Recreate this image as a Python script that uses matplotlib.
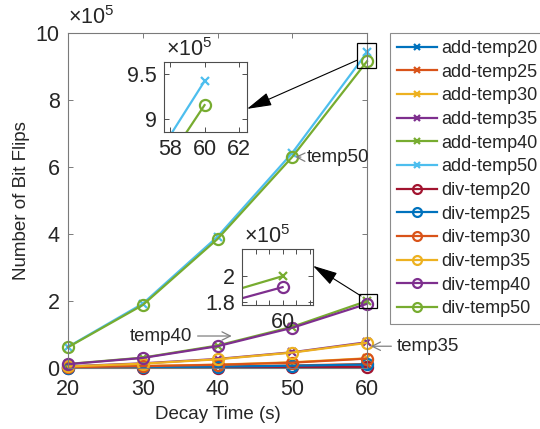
import matplotlib
matplotlib.use('Agg')
import matplotlib.pyplot as plt
from matplotlib.patches import Rectangle
from matplotlib.ticker import FuncFormatter
import numpy as np

plt.rcParams['font.family'] = ['Liberation Sans', 'DejaVu Sans']
plt.rcParams['mathtext.fontset'] = 'custom'
plt.rcParams['mathtext.rm'] = 'Liberation Sans'

# ---------------- data ----------------
decay_time = [20, 30, 40, 50, 60]

add_temp20 = [500, 1000, 1800, 3000, 5000]
add_temp25 = [1000, 2500, 4500, 7500, 12000]
add_temp30 = [2500, 6000, 10000, 17000, 29000]
add_temp35 = [5000, 14000, 27000, 47000, 77000]
add_temp40 = [12000, 31000, 67000, 123000, 200000]
add_temp50 = [63000, 192000, 392000, 642000, 942000]

div_temp20 = [300, 700, 1200, 2000, 3200]
div_temp25 = [900, 2200, 4000, 6800, 10500]
div_temp30 = [2300, 5500, 9500, 16000, 28000]
div_temp35 = [4500, 13000, 26000, 46000, 75000]
div_temp40 = [11500, 30000, 65000, 120000, 191500]
div_temp50 = [62000, 188000, 385000, 630000, 915600]

add_series = [add_temp20, add_temp25, add_temp30, add_temp35, add_temp40, add_temp50]
div_series = [div_temp20, div_temp25, div_temp30, div_temp35, div_temp40, div_temp50]
add_names = ['add-temp20', 'add-temp25', 'add-temp30', 'add-temp35', 'add-temp40', 'add-temp50']
div_names = ['div-temp20', 'div-temp25', 'div-temp30', 'div-temp35', 'div-temp40', 'div-temp50']

# matlab default colour order
add_colors = ['#0072BD', '#D95319', '#EDB120', '#7E2F8E', '#77AC30', '#4DBEEE']
div_colors = ['#A2142F', '#0072BD', '#D95319', '#EDB120', '#7E2F8E', '#77AC30']

TXT = '#262626'
AXC = '#7a7a7a'


def draw_lines(ax, ms_x=6, ms_o=8):
    hs = []
    for ys, c, n in zip(add_series, add_colors, add_names):
        h, = ax.plot(decay_time, ys, '-x', color=c, lw=1.6, ms=ms_x, mew=1.6, label=n)
        hs.append(h)
    for ys, c, n in zip(div_series, div_colors, div_names):
        h, = ax.plot(decay_time, ys, '-o', color=c, lw=1.6, ms=ms_o, mew=1.6,
                     mfc='none', label=n)
        hs.append(h)
    return hs


def style_axes(ax, spine_col, fs):
    for s in ax.spines.values():
        s.set_color(spine_col)
        s.set_linewidth(0.8)
    ax.tick_params(direction='in', top=True, right=True, length=3.5,
                   width=0.7, color=spine_col, labelcolor=TXT, labelsize=fs, pad=5)


fmt = FuncFormatter(lambda v, p: '%g' % round(v / 1e5, 3))

fig = plt.figure(figsize=(5.4, 4.29), dpi=100)

# ---------------- main axes ----------------
ax = fig.add_axes([68 / 540, 1 - 368 / 429, 299 / 540, 335 / 429])
handles = draw_lines(ax)
for h in handles:
    h.set_clip_on(False)
ax.set_xlim(20, 60)
ax.set_ylim(0, 1e6)
ax.set_xticks(decay_time)
ax.set_yticks(np.arange(0, 1.01e6, 2e5))
ax.yaxis.set_major_formatter(fmt)
style_axes(ax, AXC, 15.5)
ax.tick_params(axis='x', pad=8)
ax.tick_params(axis='y', pad=6)
ax.set_xlabel('Decay Time (s)', fontsize=13.5, color=TXT, labelpad=4)
ax.set_ylabel('Number of Bit Flips', fontsize=13.5, color=TXT, labelpad=4)
ax.text(0.0, 1.012, r'$\mathregular{\times10^{5}}$', transform=ax.transAxes,
        fontsize=15.5, color=TXT, ha='left', va='bottom')

leg = fig.legend(handles=handles, loc='upper left', bbox_to_anchor=(390 / 540, 1 - 33 / 429),
                 fontsize=13, frameon=True, fancybox=False, edgecolor='#8c8c8c',
                 framealpha=1, handlelength=2.2, handletextpad=0.25, labelspacing=0.37,
                 borderpad=0.38, borderaxespad=0, markerscale=0.8)
leg.get_frame().set_linewidth(0.8)
for t in leg.get_texts():
    t.set_color(TXT)

# ---------------- inset 1 (temp50 at 60 s) ----------------
ins1 = fig.add_axes([164 / 540, 1 - 132 / 429, 83 / 540, 70 / 429])
draw_lines(ins1)
ins1.set_xlim(57.65, 62.46)
ins1.set_ylim(8.86e5, 9.63e5)
ins1.set_xticks([58, 60, 62])
ins1.set_yticks([9e5, 9.5e5])
ins1.yaxis.set_major_formatter(fmt)
style_axes(ins1, '#4d4d4d', 15.5)
ins1.text(0.03, 1.02, r'$\mathregular{\times10^{5}}$', transform=ins1.transAxes,
          fontsize=15.5, color=TXT, ha='left', va='bottom')

# ---------------- inset 2 (temp40 at 60 s) ----------------
ins2 = fig.add_axes([242 / 540, 1 - 305 / 429, 71 / 540, 56 / 429])
draw_lines(ins2)
ins2.set_xlim(58.8, 60.9)
ins2.set_ylim(1.777e5, 2.21e5)
ins2.set_xticks([59.2, 59.6, 60, 60.4, 60.8])
ins2.set_xticklabels(['', '', '60', '', ''])
ins2.set_yticks([1.8e5, 2e5])
ins2.yaxis.set_major_formatter(fmt)
style_axes(ins2, '#4d4d4d', 15.5)
ins2.text(0.03, 1.02, r'$\mathregular{\times10^{5}}$', transform=ins2.transAxes,
          fontsize=15.5, color=TXT, ha='left', va='bottom')

# ---------------- zoom boxes + arrows ----------------
ax.add_patch(Rectangle((58.7, 8.95e5), 2.5, 0.75e5, fill=False, ec='black',
                       lw=0.9, clip_on=False, zorder=5))
ax.add_patch(Rectangle((58.9, 1.79e5), 2.4, 0.42e5, fill=False, ec='black',
                       lw=0.9, clip_on=False, zorder=5))

black_arrow = dict(arrowstyle='-|>,head_length=1.1,head_width=0.3', color='black',
                   lw=0.8, shrinkA=0, shrinkB=0, mutation_scale=14)
ax.annotate('', xy=(1.0, 0.33), xycoords=ins1.transAxes,
            xytext=(58.7, 9.19e5), textcoords='data', arrowprops=black_arrow,
            annotation_clip=False)
ax.annotate('', xy=(1.0, 0.70), xycoords=ins2.transAxes,
            xytext=(59.2, 2.15e5), textcoords='data', arrowprops=black_arrow,
            annotation_clip=False)

gray_arrow = dict(arrowstyle='->,head_length=0.5,head_width=0.25', color='#808080',
                  lw=0.9, shrinkA=2, shrinkB=0, mutation_scale=12)
ax.annotate('temp50', xy=(50.4, div_temp50[3]), xytext=(51.9, 6.27e5),
            fontsize=13.5, color=TXT, ha='left', va='center', arrowprops=gray_arrow)
ax.annotate('temp40', xy=(41.9, 0.955e5), xytext=(36.6, 0.955e5),
            fontsize=13.5, color=TXT, ha='right', va='center', arrowprops=gray_arrow)
ax.annotate('temp35', xy=(60.5, 6.5e4), xytext=(64.0, 6.5e4),
            fontsize=13.5, color=TXT, ha='left', va='center', arrowprops=gray_arrow,
            annotation_clip=False)

fig.savefig('out.png', dpi=100)
